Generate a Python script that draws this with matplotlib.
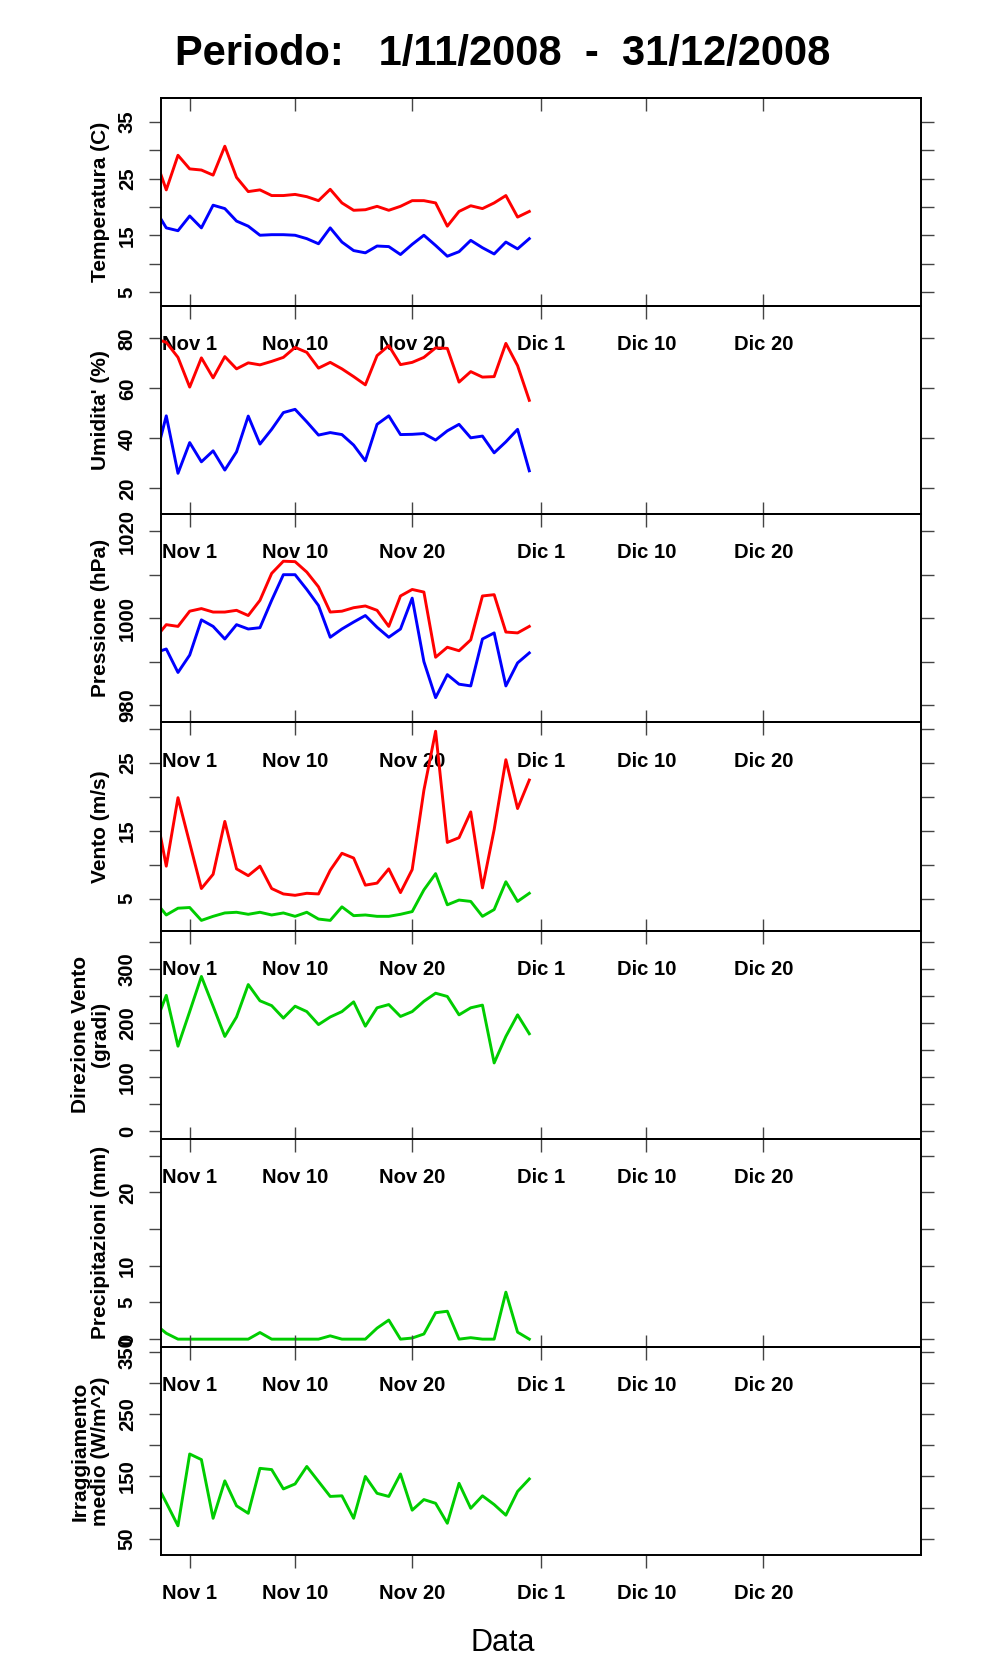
import numpy as np
import pandas as pd
import matplotlib
matplotlib.use('Agg')
import matplotlib.pyplot as plt
import matplotlib.dates as mdates

plt.rcParams['font.family'] = ['Liberation Sans', 'DejaVu Sans']

# giorni con dati (il primo cade fuori dal grafico e viene tagliato)
giorni = pd.date_range('2008-10-29', '2008-11-30', freq='D')

temp_max = [28.9, 23.0, 29.1, 26.7, 26.5, 25.6, 30.7, 25.2, 22.7, 23.0, 22.0, 22.0, 22.2, 21.8, 21.1, 23.1, 20.7,
            19.4, 19.5, 20.1, 19.4, 20.1, 21.1, 21.1, 20.7, 16.6, 19.2, 20.2, 19.7, 20.7, 22.0, 18.2, 19.2]
temp_min = [19.7, 16.3, 15.8, 18.4, 16.3, 20.3, 19.7, 17.5, 16.6, 15.0, 15.1, 15.1, 15.0, 14.4, 13.5, 16.3, 13.8,
            12.3, 11.9, 13.1, 13.0, 11.6, 13.4, 15.0, 13.2, 11.3, 12.1, 14.1, 12.8, 11.7, 13.8, 12.6, 14.4]
umid_max = [80.0, 78.4, 72.4, 60.5, 72.2, 64.2, 72.7, 67.8, 70.2, 69.4, 70.8, 72.4, 76.4, 74.4, 68.1, 70.4, 67.8,
            64.7, 61.4, 73.1, 77.1, 69.5, 70.4, 72.4, 76.2, 76.0, 62.5, 66.7, 64.5, 64.7, 78.0, 69.1, 55.2]
umid_min = [30.7, 49.0, 26.0, 38.3, 30.6, 35.0, 27.3, 34.6, 48.9, 37.7, 43.6, 50.3, 51.6, 46.6, 41.3, 42.3, 41.5,
            37.3, 31.0, 45.6, 49.0, 41.5, 41.6, 41.9, 39.3, 43.0, 45.6, 40.2, 40.9, 34.2, 38.6, 43.6, 27.0]
press_max = [995.2, 998.5, 998.1, 1001.6, 1002.2, 1001.4, 1001.4, 1001.8, 1000.6, 1004.1, 1010.3, 1013.1, 1013.0,
             1010.6, 1007.2, 1001.4, 1001.6, 1002.4, 1002.8, 1001.8, 998.1, 1005.1, 1006.6, 1006.0, 991.0, 993.3,
             992.5, 995.0, 1005.1, 1005.4, 996.8, 996.6, 998.1]
press_min = [992.0, 992.9, 987.5, 991.5, 999.6, 998.1, 995.2, 998.5, 997.5, 997.8, 1004.1, 1010.0, 1010.0, 1006.6,
             1002.9, 995.6, 997.5, 999.1, 1000.6, 997.9, 995.6, 997.5, 1004.6, 990.0, 981.7, 987.0, 984.8, 984.4,
             995.2, 996.6, 984.4, 989.7, 992.0]
vento_max = [18.8, 9.8, 19.9, 13.2, 6.5, 8.6, 16.4, 9.4, 8.4, 9.8, 6.5, 5.7, 5.5, 5.8, 5.7, 9.2, 11.7, 11.0, 7.0,
             7.3, 9.4, 5.9, 9.3, 21.0, 29.7, 13.3, 14.0, 17.8, 6.6, 15.2, 25.5, 18.3, 22.5]
vento_medio = [4.7, 2.6, 3.6, 3.7, 1.8, 2.4, 2.9, 3.0, 2.7, 3.0, 2.6, 2.9, 2.4, 3.0, 2.0, 1.8, 3.8, 2.5, 2.6, 2.4,
               2.4, 2.7, 3.1, 6.3, 8.7, 4.1, 4.8, 4.6, 2.4, 3.4, 7.5, 4.6, 5.8]
direzione = [195, 251, 157, 221, 286, 231, 175, 211, 271, 241, 232, 209, 231, 221, 197, 211, 221, 239, 194, 228,
             234, 212, 221, 240, 255, 249, 215, 228, 233, 126, 175, 215, 180]
pioggia = [2.1, 0.8, 0.0, 0.0, 0.0, 0.0, 0.0, 0.0, 0.0, 0.9, 0.0, 0.0, 0.0, 0.0, 0.0, 0.45, 0.0, 0.0, 0.0, 1.5,
           2.6, 0.0, 0.15, 0.7, 3.6, 3.8, 0.0, 0.2, 0.0, 0.0, 6.4, 0.95, 0.0]
irragg = [144, 108, 71, 186, 177, 83, 143, 103, 91, 163, 161, 130, 138, 166, 142, 118, 119, 83, 150, 123, 118, 154,
          96, 113, 107, 75, 139, 99, 119, 105, 88, 126, 146]

date_tick = ['2008-11-01', '2008-11-10', '2008-11-20', '2008-12-01', '2008-12-10', '2008-12-20']
date_lab = ['Nov 1', 'Nov 10', 'Nov 20', 'Dic 1', 'Dic 10', 'Dic 20']

ylabels = ['Temperatura (C)', "Umidita' (%)", 'Pressione (hPa)', 'Vento (m/s)',
           'Direzione Vento\n(gradi)', 'Precipitazioni (mm)', 'Irraggiamento\nmedio (W/m^2)']
ylims = [(2.5, 39.2), (9.6, 92.9), (976.0, 1023.9), (0.3, 31.0), (-14.2, 370.9), (-1.05, 27.3), (24.2, 357.6)]
yticks = [[5, 10, 15, 20, 25, 30, 35], [20, 40, 60, 80], [980, 990, 1000, 1010, 1020], [5, 10, 15, 20, 25, 30],
          [0, 50, 100, 150, 200, 250, 300, 350], [0, 5, 10, 15, 20, 25], [50, 100, 150, 200, 250, 300, 350]]
ytick_lab = [['5', '', '15', '', '25', '', '35'], ['20', '40', '60', '80'], ['980', '', '1000', '', '1020'],
             ['5', '', '15', '', '25', ''], ['0', '', '100', '', '200', '', '300', ''],
             ['0', '5', '10', '', '20', ''], ['50', '', '150', '', '250', '', '350']]

ROSSO, BLU, VERDE = '#FF0000', '#0000FF', '#00CD00'
serie = [[(temp_max, ROSSO), (temp_min, BLU)],
         [(umid_max, ROSSO), (umid_min, BLU)],
         [(press_max, ROSSO), (press_min, BLU)],
         [(vento_max, ROSSO), (vento_medio, VERDE)],
         [(direzione, VERDE)],
         [(pioggia, VERDE)],
         [(irragg, VERDE)]]

x = mdates.date2num(giorni)
xt = mdates.date2num(pd.to_datetime(date_tick))
x0 = mdates.date2num(pd.Timestamp('2008-11-01')) - 2.45
x1 = mdates.date2num(pd.Timestamp('2008-12-31')) + 2.45

W, H = 996, 1680
left, right, top, bottom = 161, 921, 98, 1555
h = (bottom - top) / 7.0

fig = plt.figure(figsize=(W / 100, H / 100), dpi=100)
fig.patch.set_facecolor('white')

for i in range(7):
    ax = fig.add_axes([left / W, 1 - (top + (i + 1) * h) / H, (right - left) / W, h / H])
    ax.set_facecolor('none')
    for valori, col in serie[i]:
        ax.plot(x, valori, '-', color=col, lw=2.1)
    ax.set_xlim(x0, x1)
    ax.set_ylim(*ylims[i])

    ax.set_xticks(xt)
    ax.set_xticklabels(date_lab, fontweight='bold')
    ax.set_yticks(yticks[i])
    ax.set_yticklabels(ytick_lab[i], fontweight='bold', rotation=90, va='center')

    ax.tick_params(axis='both', direction='out', length=9, width=1.0, color='#444444', labelsize=14.6)
    ax.tick_params(axis='x', top=True, pad=12)
    ax.tick_params(axis='y', right=True, labelright=False, pad=8.4)
    for s in ax.spines.values():
        s.set_linewidth(1.4)

    if i == 0:
        # in alto sul primo pannello le tacche vanno verso l'interno
        ax.tick_params(axis='x', top=False)
        sec = ax.secondary_xaxis('top')
        sec.set_xticks(xt)
        sec.set_xticklabels([])
        sec.tick_params(direction='in', length=9, width=1.0, color='#444444')
        sec.spines['top'].set_linewidth(1.4)

    ax.set_ylabel(ylabels[i], fontsize=15, fontweight='bold', linespacing=1.1)
    ax.yaxis.set_label_coords(-0.0671, 0.5)

fig.text(503 / W, 1 - 65 / H, 'Periodo:   1/11/2008  -  31/12/2008', fontsize=30, fontweight='bold',
         ha='center', va='baseline')
fig.text(503 / W, 1 - 1651 / H, 'Data', fontsize=22, ha='center', va='baseline')

fig.savefig('out.png', dpi=100)
